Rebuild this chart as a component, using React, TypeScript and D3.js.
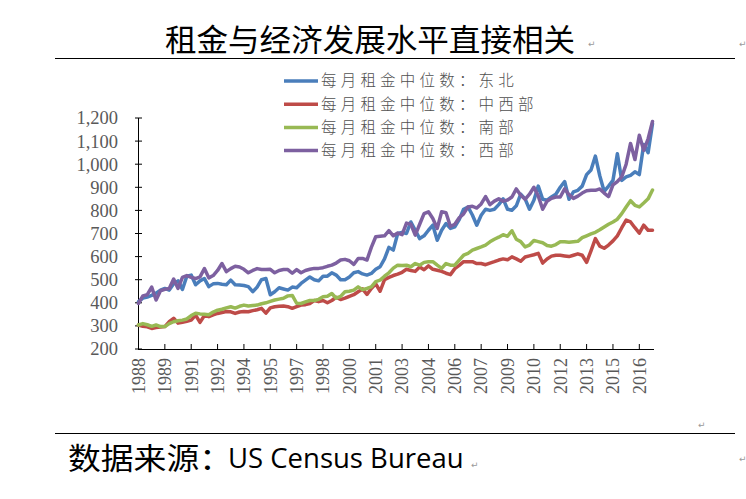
import React from "react";
import * as d3 from "d3";

const title = "租金与经济发展水平直接相关";
const sourceLabel = "数据来源：";
const sourceName = "US Census Bureau";

const tickLabels = ["1988","1989","1991","1992","1994","1995","1997","1998","2000","2001","2003","2004","2006","2007","2009","2010","2012","2013","2015","2016"];
const yTicks = [200,300,400,500,600,700,800,900,1000,1100,1200];

const seriesNames = ["每月租金中位数：东北","每月租金中位数：中西部","每月租金中位数：南部","每月租金中位数：西部"];
const seriesColors = ["#4A7EBB","#BE4B48","#98B954","#7D60A0"];

const northeast = [
  405,420,425,432,442,455,462,455,482,495,
  458,515,520,478,495,505,470,482,484,480,
  478,498,478,477,475,470,448,468,500,505,
  435,448,465,460,455,468,465,484,498,512,
  500,495,515,515,530,520,500,500,512,530,
  535,525,520,527,545,556,590,640,628,700,
  705,700,750,714,678,690,714,736,671,714,
  743,722,729,760,805,815,780,736,779,805,
  800,805,825,850,805,801,820,870,850,805,
  844,905,848,844,858,870,900,925,848,880,
  887,905,955,975,1035,950,882,905,930,1045,
  930,945,952,967,955,1085,1050,1175,
];
const midwest = [
  304,298,296,289,293,295,297,318,333,312,
  316,320,325,347,315,345,340,348,354,358,
  362,361,354,360,362,361,366,370,376,355,
  378,383,385,386,383,376,383,390,392,397,
  410,405,410,400,410,424,414,420,428,435,
  448,460,436,462,482,450,500,510,518,524,
  532,545,540,536,555,543,560,545,541,536,
  528,522,548,562,578,578,578,570,570,565,
  572,578,585,590,586,599,590,580,598,603,
  608,614,572,590,602,606,606,603,600,606,
  612,606,575,625,678,645,636,650,668,690,
  725,758,750,725,702,736,714,714,
];
const south = [
  304,310,305,298,304,297,297,310,318,322,
  325,330,345,355,352,350,348,360,368,372,
  378,383,377,385,390,386,388,390,396,400,
  406,412,416,420,430,432,398,397,404,410,
  410,415,426,428,440,420,428,448,450,455,
  469,457,462,469,492,498,515,530,550,563,
  562,563,556,570,563,575,578,578,563,549,
  570,563,563,585,606,614,628,635,642,650,
  664,675,684,695,688,712,675,665,642,650,
  670,665,660,648,645,652,664,664,662,664,
  666,682,690,698,705,716,728,740,750,762,
  786,815,842,822,815,832,850,888,
];
const west = [
  397,430,435,468,412,452,458,462,503,462,
  510,518,510,505,512,548,508,518,540,570,
  535,548,558,555,545,530,540,548,544,544,
  545,530,540,544,544,528,544,530,540,545,
  549,549,552,558,563,572,585,588,582,566,
  592,592,585,640,686,688,690,712,690,702,
  695,745,740,693,740,786,794,765,722,794,
  790,730,740,768,785,815,818,810,828,860,
  825,840,850,840,845,858,893,866,848,870,
  900,862,805,840,852,858,858,893,868,852,
  862,875,885,887,887,893,875,860,910,925,
  945,1000,1090,1020,1125,1060,1110,1185,
];

const allSeries = [northeast, midwest, south, west];
const TICK_EVERY = 6;

export default function App() {
  const n = northeast.length;
  const x = d3.scaleLinear().domain([0, n - 1]).range([138.5, 652.5]);
  const y = d3.scaleLinear().domain([200, 1200]).range([349, 118]);
  const line = d3.line<number>().x((_, i) => x(i)).y((v) => y(v));
  const fmt = d3.format(",");
  const axisColor = "#000";
  const labelColor = "#595959";
  const mark = "#9a9a9a";

  return (
    <svg width={746} height={499} style={{ position: "absolute", left: 0, top: 0, background: "#fff" }}
      xmlns="http://www.w3.org/2000/svg">
      <rect x={0} y={0} width={746} height={499} fill="#fff" />
      {/* Title */}
      <text x={370} y={51} textAnchor="middle" fontFamily="'Noto Sans CJK SC', sans-serif" fontSize={31}
        textLength={410} lengthAdjust="spacingAndGlyphs" fill="#000">{title}</text>
      <text x={588} y={47} fontFamily="'DejaVu Sans', sans-serif" fontSize={9} fill={mark}>↵</text>
      <text x={739} y={47} fontFamily="'DejaVu Sans', sans-serif" fontSize={9} fill={mark}>↵</text>
      <line x1={55} x2={735} y1={58.5} y2={58.5} stroke="#000" strokeWidth={1} />

      {/* Legend */}
      {seriesNames.map((name, k) => (
        <g key={name} transform={`translate(0, ${81 + k * 23.2})`}>
          <line x1={284} x2={318} y1={0} y2={0} stroke={seriesColors[k]} strokeWidth={3.5} />
          <text x={321} y={0} dy="0.35em" fontFamily="'Noto Sans CJK SC', sans-serif" fontSize={15.5}
            fontWeight={300} letterSpacing={4.2} fill="#505050">{name}</text>
        </g>
      ))}

      {/* Y axis */}
      <line x1={138.5} x2={138.5} y1={118} y2={349.5} stroke={axisColor} strokeWidth={1} />
      {yTicks.map((t) => (
        <g key={t}>
          <line x1={135} x2={142} y1={y(t)} y2={y(t)} stroke={axisColor} strokeWidth={1} />
          <text x={118} y={y(t)} dy="0.35em" textAnchor="end" fontFamily="'Liberation Serif', serif" fontSize={18.5} fill={labelColor}>{fmt(t)}</text>
        </g>
      ))}

      {/* X axis */}
      <line x1={138} x2={654} y1={349.5} y2={349.5} stroke={axisColor} strokeWidth={1} />
      {tickLabels.map((lab, k) => {
        const xi = x(k * TICK_EVERY);
        return (
          <g key={lab + k}>
            <line x1={xi} x2={xi} y1={344} y2={349.5} stroke={axisColor} strokeWidth={1} />
            <text transform={`translate(${xi}, 358) rotate(-90)`} dy="0.35em" textAnchor="end"
              fontFamily="'Liberation Serif', serif" fontSize={18} fill={labelColor}>{lab}</text>
          </g>
        );
      })}

      {/* Series */}
      {allSeries.map((s, k) => (
        <path key={k} d={line(s) || ""} fill="none" stroke={seriesColors[k]} strokeWidth={3.5}
          strokeLinejoin="round" strokeLinecap="round" />
      ))}

      {/* Bottom */}
      <text x={698} y={428} fontFamily="'DejaVu Sans', sans-serif" fontSize={9} fill={mark}>↵</text>
      <line x1={55} x2={735} y1={433.5} y2={433.5} stroke="#000" strokeWidth={1} />
      <text x={68} y={469} fontFamily="'Noto Sans CJK SC', sans-serif" fontSize={30} fill="#000"
        textLength={164} lengthAdjust="spacingAndGlyphs">{sourceLabel}</text>
      <text x={228} y={468} fontFamily="'Open Sans', sans-serif" fontSize={27.5} fill="#000">{sourceName}</text>
      <text x={471} y={468} fontFamily="'DejaVu Sans', sans-serif" fontSize={9} fill={mark}>↵</text>
      <text x={739} y={462} fontFamily="'DejaVu Sans', sans-serif" fontSize={9} fill={mark}>↵</text>
    </svg>
  );
}
